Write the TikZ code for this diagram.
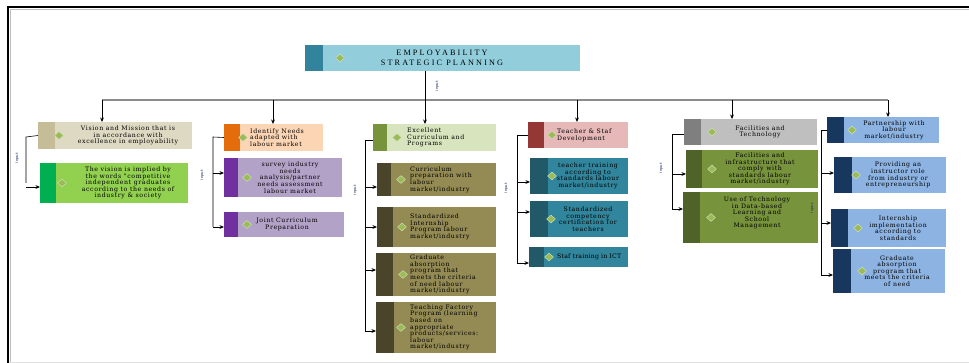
\documentclass[tikz,border=0pt]{standalone}
\usepackage{fontspec}
\usetikzlibrary{shapes.geometric,arrows.meta}
\newfontfamily\bxfont[LetterSpace=10]{DejaVu Serif}
\newfontfamily\bxfontn[LetterSpace=3]{DejaVu Serif}
\newfontfamily\ttlfont[LetterSpace=26]{Liberation Serif}
\definecolor{ttlS}{HTML}{31849B}\definecolor{ttlF}{HTML}{92CDDC}
\definecolor{aS}{HTML}{C4BD97}\definecolor{aF}{HTML}{DDD9C3}
\definecolor{agS}{HTML}{00B050}\definecolor{agF}{HTML}{92D050}
\definecolor{bS}{HTML}{E46C0A}\definecolor{bF}{HTML}{FCD5B5}
\definecolor{bpS}{HTML}{7030A0}\definecolor{bpF}{HTML}{B3A2C7}
\definecolor{cS}{HTML}{77933C}\definecolor{cF}{HTML}{D7E4BD}
\definecolor{coS}{HTML}{4A452A}\definecolor{coF}{HTML}{948A54}
\definecolor{dS}{HTML}{953735}\definecolor{dF}{HTML}{E6B9B8}
\definecolor{dtS}{HTML}{215968}\definecolor{dtF}{HTML}{31859C}
\definecolor{eS}{HTML}{7F7F7F}\definecolor{eF}{HTML}{BFBFBF}
\definecolor{egS}{HTML}{4F6228}\definecolor{egF}{HTML}{77933C}
\definecolor{fS}{HTML}{17375E}\definecolor{fF}{HTML}{8DB3E2}
\definecolor{dmG}{HTML}{9BBB59}\definecolor{dmL}{HTML}{D7E4BD}
\definecolor{inpC}{HTML}{1F3864}
\newcommand\bx[8]{\node[bxs={#6}{#7}{#8}, minimum width={#4pt-#2pt}, minimum height={#5pt-#3pt}] (#1) at ({(#2+#4)/2},{(#3+#5)/2}) {};}
\newcommand\dm[3]{\node[dia] (#1) at ([xshift=#2pt]#3.west) {};}
\begin{document}
\begin{tikzpicture}[x=1pt,y=-1pt,
  bxs/.style n args={3}{rectangle, inner sep=0pt, outer sep=0pt, fill=#2,
    path picture={\fill[#1] (path picture bounding box.north west) rectangle ([xshift=#3pt]path picture bounding box.south west);}},
  dia/.style={diamond, aspect=1.15, minimum width=9pt, minimum height=8pt, inner sep=0pt, fill=dmG, draw=dmL, line width=0.4pt},
  txt/.style={font={\bxfont\fontsize{6.2}{6.6}\selectfont}, inner sep=0pt, align=center, text=black},
  txl/.style={txt, align=left, anchor=west},
  inp/.style={font={\sffamily\fontsize{4.5}{5}\selectfont}, text=inpC, rotate=90, inner sep=0pt},
  arr/.style={-{Stealth[length=4.5pt,width=3.8pt]}, line width=0.6pt, black},
  ln/.style={line width=0.6pt, black},
  bus/.style={line width=1.3pt, black!45}]
\useasboundingbox (0,0) rectangle (969,363);
% frame
\draw[black!25, line width=0.8pt] (10,363) -- (10,9.5) -- (969,9.5);
\draw[line width=2.2pt] (8,363) -- (8,7) -- (969,7);
\draw[black!12, line width=0.6pt] (9,362) -- (969,362);
% title
\bx{top}{305}{45}{580}{71}{ttlS}{ttlF}{18}
\dm{topd}{35}{top}
\node[font={\ttlfont\fontsize{8.2}{10}\selectfont}, align=center, inner sep=0pt] (topt) at (442,58) {EMPLOYABILITY\\STRATEGIC PLANNING};
% column 1
\bx{c1}{38}{122}{192}{149}{aS}{aF}{17}
\dm{c1d}{21}{c1}
\node[txt] (c1t) at (128,135.5) {Vision and Mission  that is\\in accordance with\\excellence in employability};
\bx{c1a}{40}{163}{188}{203}{agS}{agF}{16}
\dm{c1ad}{22}{c1a}
\node[txt] (c1at) at (128,183) {The vision  is implied by\\the words "competitive\\independent graduates\\according to the needs of\\industry \& society};
% column 2
\bx{c2}{224}{124}{323}{151}{bS}{bF}{16}
\dm{c2d}{19}{c2}
\node[txl] (c2t) at (250,137.5) {Identify Needs\\adapted with\\labour market};
\bx{c2a}{224}{158}{342}{197}{bpS}{bpF}{14}
\dm{c2ad}{23}{c2a}
\node[txt] (c2at) at (290,177.5) {survey industry\\needs\\analysis/partner\\needs assessment\\labour market};
\bx{c2b}{224}{212}{344}{237}{bpS}{bpF}{14}
\dm{c2bd}{23}{c2b}
\node[txt] (c2bt) at (287,224.5) {Joint Curriculum\\Preparation};
% column 3
\bx{c3}{373}{124}{496}{151}{cS}{cF}{14}
\dm{c3d}{24}{c3}
\node[txl] (c3t) at (407,137.5) {Excellent\\Curriculum  and\\Programs};
\bx{c3a}{377}{163}{496}{196}{coS}{coF}{14}
\dm{c3ad}{24}{c3a}
\node[txl] (c3at) at (410,179.5) {Curriculum\\preparation with\\labour\\market/industry};
\bx{c3b}{377}{207}{496}{247}{coS}{coF}{16}
\dm{c3bd}{25}{c3b}
\node[txl] (c3bt) at (410,227) {Standardized\\Internship\\Program labour\\market/industry};
\bx{c3c}{376}{253}{496}{296}{coS}{coF}{17}
\dm{c3cd}{27}{c3c}
\node[txl] (c3ct) at (410,274.5) {Graduate\\absorption\\program that\\meets the criteria\\of need labour\\market/industry};
\bx{c3d}{376}{302}{496}{353}{coS}{coF}{18}
\dm{c3dd}{25}{c3d}
\node[txl] (c3dt) at (410,327.5) {Teaching Factory\\Program (learning\\based on\\appropriate\\products/services:\\labour\\market/industry};
% column 4
\bx{c4}{528}{122}{628}{148}{dS}{dF}{16}
\dm{c4d}{24}{c4}
\node[txl] (c4t) at (557,135) {Teacher \& Staf\\Development};
\bx{c4a}{530}{158}{628}{194}{dtS}{dtF}{18}
\dm{c4ad}{22}{c4a}
\node[txt] (c4at) at (588,176) {teacher training\\according to\\standards labour\\market/industry};
\bx{c4b}{530}{201}{628}{237}{dtS}{dtF}{18}
\dm{c4bd}{21}{c4b}
\node[txt] (c4bt) at (588,219) {Standardized\\competency\\certification  for\\teachers};
\bx{c4c}{529}{247}{628}{267}{dtS}{dtF}{15}
\dm{c4cd}{20}{c4c}
\node[txl, font={\bxfontn\fontsize{6.2}{6.6}\selectfont}] (c4ct) at (557,257) {Staf training  in ICT};
% column 5
\bx{c5}{684}{119}{817}{145}{eS}{eF}{17}
\dm{c5d}{28}{c5}
\node[txt] (c5t) at (760,132) {Facilities  and\\Technology};
\bx{c5a}{686}{150}{818}{188}{egS}{egF}{16}
\dm{c5ad}{26}{c5a}
\node[txt] (c5at) at (760,169) {Facilities  and\\infrastructure that\\comply with\\standards labour\\market/industry};
\bx{c5b}{683}{192}{818}{243}{egS}{egF}{17}
\dm{c5bd}{28}{c5b}
\node[txt] (c5bt) at (757,213) {Use of Technology\\in Data-based\\Learning and\\School\\Management};
% column 6
\bx{c6}{827}{117}{939}{143}{fS}{fF}{17}
\dm{c6d}{25}{c6}
\node[txt] (c6t) at (894,130) {Partnership with\\labour\\market/industry};
\bx{c6a}{834}{157}{946}{193}{fS}{fF}{18}
\dm{c6ad}{22}{c6a}
\node[txt] (c6at) at (898,175) {Providing  an\\instructor role\\from industry or\\entrepreneurship};
\bx{c6b}{831}{209}{946}{247}{fS}{fF}{17}
\dm{c6bd}{27}{c6b}
\node[txt] (c6bt) at (898,228) {Internship\\implementation\\according to\\standards};
\bx{c6c}{833}{249}{945}{293}{fS}{fF}{18}
\dm{c6cd}{29}{c6c}
\node[txt] (c6ct) at (897,271) {Graduate\\absorption\\program that\\meets the criteria\\of need};
% bus
\coordinate (b1) at (102,100);
\coordinate (b2) at (273,100);
\coordinate (b3) at (425,100);
\coordinate (b4) at (577,100);
\coordinate (b5) at (732,100);
\coordinate (b6) at (888,100);
\draw[bus] (b1) -- (b6);
\draw[arr] (top.south -| b3) -- (b3 |- c3.north);
\foreach \i in {1,2,4,5,6} \draw[arr] (b\i) -- (b\i |- c\i.north);
% input labels
\node[inp] (l0) at (437,86) {input};
\node[inp] (l1) at (17,158) {input};
\node[inp] (l2) at (202,175) {input};
\node[inp] (l3) at (355,190) {input};
\node[inp] (l4) at (506,188) {input};
\node[inp] (l5) at (661,168) {input};
\node[inp] (l6) at (812,208) {input};
% column spines
\coordinate (s1) at (26,137);
\draw[ln] (c1.west) -- (s1) -- (s1 |- c1a.west);
\draw[arr] ([yshift=-4pt]c1a.west -| s1) -- ([yshift=-4pt]c1a.west);
\coordinate (s2) at (213,137);
\draw[ln] (c2.west) -- (s2) -- ([yshift=-2.5pt]s2 |- c2b.west);
\draw[arr] ([yshift=4.5pt]c2a.west -| s2) -- ([yshift=4.5pt]c2a.west);
\draw[arr] ([yshift=-2.5pt]c2b.west -| s2) -- ([yshift=-2.5pt]c2b.west);
\coordinate (s3) at (365,140);
\draw[ln] ([yshift=-2.5pt]c3.west) -- (s3) -- ([yshift=-3.5pt]s3 |- c3d.west);
\draw[arr] ([yshift=-7.5pt]c3a.west -| s3) -- ([yshift=-7.5pt]c3a.west);
\draw[arr] (c3b.west -| s3) -- (c3b.west);
\draw[arr] ([yshift=4.5pt]c3c.west -| s3) -- ([yshift=4.5pt]c3c.west);
\draw[arr] ([yshift=-3.5pt]c3d.west -| s3) -- ([yshift=-3.5pt]c3d.west);
\coordinate (s4) at (517,135);
\draw[ln] (c4.west) -- (s4) -- ([yshift=-6pt]s4 |- c4c.west);
\draw[arr] ([yshift=-6pt]c4a.west -| s4) -- ([yshift=-6pt]c4a.west);
\draw[arr] ([yshift=7pt]c4b.west -| s4) -- ([yshift=7pt]c4b.west);
\draw[arr] ([yshift=-6pt]c4c.west -| s4) -- ([yshift=-6pt]c4c.west);
\coordinate (s5) at (672,134);
\draw[ln] ([yshift=-2pt]c5.west) -- (s5) -- ([yshift=8.5pt]s5 |- c5b.west);
\draw[arr] ([yshift=-5pt]c5a.west -| s5) -- ([yshift=-5pt]c5a.west);
\draw[arr] ([yshift=8.5pt]c5b.west -| s5) -- ([yshift=8.5pt]c5b.west);
\coordinate (s6) at (821,130);
\draw[ln] (c6.west) -- (s6) -- ([yshift=-4pt]s6 |- c6c.west);
\draw[arr] ([yshift=2pt]c6a.west -| s6) -- ([yshift=2pt]c6a.west);
\draw[arr] ([yshift=5pt]c6b.west -| s6) -- ([yshift=5pt]c6b.west);
\draw[arr] ([yshift=-4pt]c6c.west -| s6) -- ([yshift=-4pt]c6c.west);
\end{tikzpicture}
\end{document}
